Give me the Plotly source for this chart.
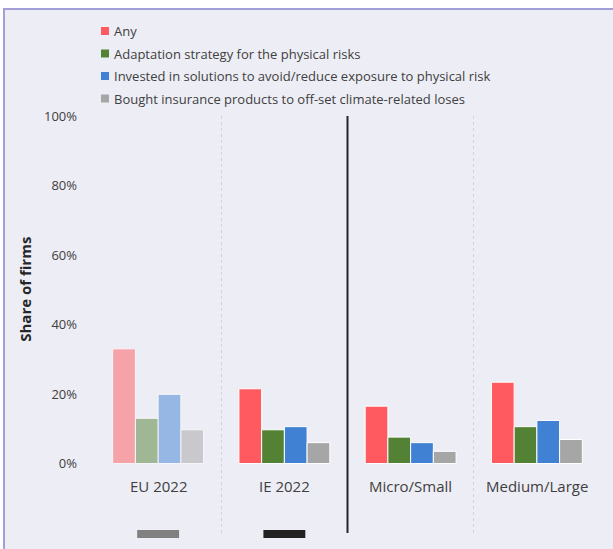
import plotly.graph_objects as go

# --- data -----------------------------------------------------------------
categories = ["EU 2022", "IE 2022", "Micro/Small", "Medium/Large"]
series_names = [
    "Any",
    "Adaptation strategy for the physical risks",
    "Invested in solutions to avoid/reduce exposure to physical risk",
    "Bought insurance products to off-set climate-related loses",
]
any_vals = [0.33, 0.215, 0.165, 0.234]
adaptation_vals = [0.13, 0.097, 0.076, 0.106]
invested_vals = [0.199, 0.106, 0.06, 0.124]
insurance_vals = [0.097, 0.06, 0.035, 0.069]
series_values = [any_vals, adaptation_vals, invested_vals, insurance_vals]

y_tick_values = [0, 0.2, 0.4, 0.6, 0.8, 1.0]
y_tick_labels = ["0%", "20%", "40%", "60%", "80%", "100%"]

# --- styling ----------------------------------------------------------------
colors = ["#FF5A5F", "#548235", "#4181D3", "#A6A6A6"]
# the EU benchmark group is drawn faded
point_opacity = [0.5, 1, 1, 1]
marker_strip_colors = ["#808080", "#222222"]
bg = "#EDEDF5"
frame_color = "#A29ED6"
text_color = "#404040"
FONT = "Open Sans"

W, H = 613, 549
ML, MR, MT, MB = 95, 13, 116, 16
PW, PH = W - ML - MR, H - MT - MB


def px_x(px):
    return (px - ML) / PW


def px_y(py):
    return (H - MB - py) / PH


fig = go.Figure()
for name, vals, col in zip(series_names, series_values, colors):
    fig.add_trace(
        go.Bar(
            x=categories,
            y=vals,
            name=name,
            marker=dict(color=col, opacity=point_opacity,
                        line=dict(color="white", width=1)),
            showlegend=False,
        )
    )

shapes = []
# background panel with its frame on the left and top
shapes.append(dict(type="rect", xref="paper", yref="paper", layer="below",
                   x0=px_x(4), x1=px_x(W + 20), y0=px_y(H + 20), y1=px_y(9),
                   fillcolor=bg, line=dict(color=frame_color, width=2)))
# divider between the country groups and the size groups
shapes.append(dict(type="line", xref="x", yref="paper", x0=1.5, x1=1.5,
                   y0=0, y1=1, line=dict(color="#262626", width=2)))
# small strips under the first two groups
for i, c in enumerate(marker_strip_colors):
    shapes.append(dict(type="rect", xref="x", yref="paper",
                       x0=i - 0.166, x1=i + 0.166,
                       y0=px_y(538), y1=px_y(530),
                       fillcolor=c, line=dict(width=0)))

annotations = []
# legend
legend_rows = [31, 53.5, 76, 98.5]
for name, col, ry in zip(series_names, colors, legend_rows):
    shapes.append(dict(type="rect", xref="paper", yref="paper",
                       x0=px_x(101), x1=px_x(109), y0=px_y(ry + 4), y1=px_y(ry - 4),
                       fillcolor=col, line=dict(width=0)))
    annotations.append(dict(text=name, xref="paper", yref="paper",
                            x=px_x(112), y=px_y(ry), xanchor="left", yanchor="middle",
                            showarrow=False, font=dict(family=FONT, size=13, color=text_color)))
# category labels
for cat in categories:
    annotations.append(dict(text=cat, xref="x", yref="y", x=cat, y=-0.066,
                            showarrow=False, xanchor="center", yanchor="middle",
                            font=dict(family=FONT, size=15, color=text_color)))
# y axis title
annotations.append(dict(text="<b>Share of firms</b>", xref="paper", yref="y",
                        x=px_x(25), y=0.5, textangle=-90, showarrow=False,
                        xanchor="center", yanchor="middle",
                        font=dict(family=FONT, size=15, color="#262626")))

fig.update_layout(
    width=W, height=H,
    margin=dict(l=ML, r=MR, t=MT, b=MB),
    paper_bgcolor="white",
    plot_bgcolor="rgba(0,0,0,0)",
    barmode="group", bargap=0.28, bargroupgap=0,
    font=dict(family=FONT, size=13, color=text_color),
    shapes=shapes, annotations=annotations,
    xaxis=dict(type="category", range=[-0.5, 3.5], tickson="boundaries",
               showgrid=True, griddash="dot", gridcolor="#D2D2DC", gridwidth=1,
               showticklabels=False, ticks="", zeroline=False, showline=False),
    yaxis=dict(range=[-0.2, 1.0], tickvals=y_tick_values, ticktext=y_tick_labels,
               showgrid=False, zeroline=False, showline=False, ticks="",
               ticklabelstandoff=17,
               tickfont=dict(family=FONT, size=13, color=text_color)),
)

fig.write_html("out.html")
